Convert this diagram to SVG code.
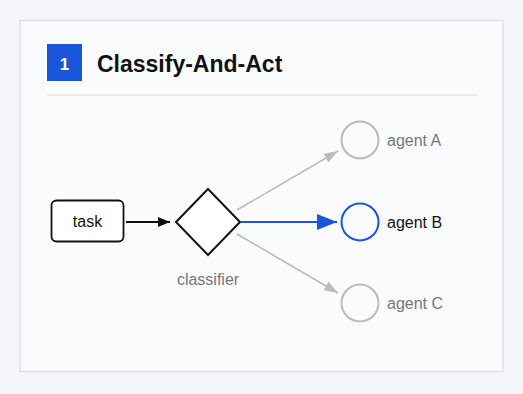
<svg xmlns="http://www.w3.org/2000/svg" width="523" height="394" viewBox="0 0 523 394">
<defs>
<style>
text{font-family:"Liberation Sans",Arial,sans-serif}
.lbl{font-size:16px}
.gray{fill:#777}
.edge-g{stroke:#bbb;stroke-width:1.6;fill:none}
</style>
<marker id="ah-k" markerWidth="12" markerHeight="10" refX="12" refY="5" orient="auto" markerUnits="userSpaceOnUse"><path d="M0,0 L12,5 L0,10 Z" fill="#111"/></marker>
<marker id="ah-g" markerWidth="14" markerHeight="10" refX="14" refY="5" orient="auto" markerUnits="userSpaceOnUse"><path d="M0,0 L14,5 L0,10 Z" fill="#bbb"/></marker>
<marker id="ah-b" markerWidth="20" markerHeight="16" refX="20" refY="8" orient="auto" markerUnits="userSpaceOnUse"><path d="M0,0 L20,8 L0,16 Z" fill="#1a56db"/></marker>
</defs>
<rect width="523" height="394" fill="#f4f5f8"/>
<rect x="20" y="20.5" width="483" height="351" fill="#fafbfc" stroke="#dcdcdf" stroke-width="1.2"/>
<g id="header">
<rect x="47" y="44" width="35" height="37" fill="#1a56db"/>
<text x="64.5" y="70" font-size="17" font-weight="bold" fill="#fff" text-anchor="middle">1</text>
<text x="97" y="72" font-size="23" font-weight="bold" fill="#111">Classify-And-Act</text>
<line x1="47" y1="95" x2="477" y2="95" stroke="#dcdcdf" stroke-width="1.2"/>
</g>
<g id="connectors">
<line x1="126" y1="222" x2="170" y2="222" stroke="#111" stroke-width="1.8" marker-end="url(#ah-k)"/>
<line class="edge-g" x1="237" y1="210" x2="338" y2="151" marker-end="url(#ah-g)"/>
<line class="edge-g" x1="237" y1="234" x2="338" y2="293" marker-end="url(#ah-g)"/>
<line x1="241" y1="222" x2="337" y2="222" stroke="#1a56db" stroke-width="2.2" marker-end="url(#ah-b)"/>
</g>
<g id="task">
<rect x="51.5" y="200.5" width="72" height="41" rx="5" fill="#fff" stroke="#111" stroke-width="1.8"/>
<text class="lbl" x="87.5" y="227" text-anchor="middle" fill="#111">task</text>
</g>
<g id="classifier">
<path d="M208,189 L240,222 L208,255 L176,222 Z" fill="#fff" stroke="#111" stroke-width="2"/>
<text class="lbl gray" x="208" y="285" text-anchor="middle">classifier</text>
</g>
<g id="agentA">
<circle cx="360" cy="140" r="18.5" fill="none" stroke="#bbb" stroke-width="2"/>
<text class="lbl gray" x="387" y="146">agent A</text>
</g>
<g id="agentB">
<circle cx="360" cy="222" r="18.5" fill="none" stroke="#1a56db" stroke-width="2"/>
<text class="lbl" x="387" y="228" fill="#111">agent B</text>
</g>
<g id="agentC">
<circle cx="360" cy="303" r="18.5" fill="none" stroke="#bbb" stroke-width="2"/>
<text class="lbl gray" x="387" y="309">agent C</text>
</g>
</svg>
